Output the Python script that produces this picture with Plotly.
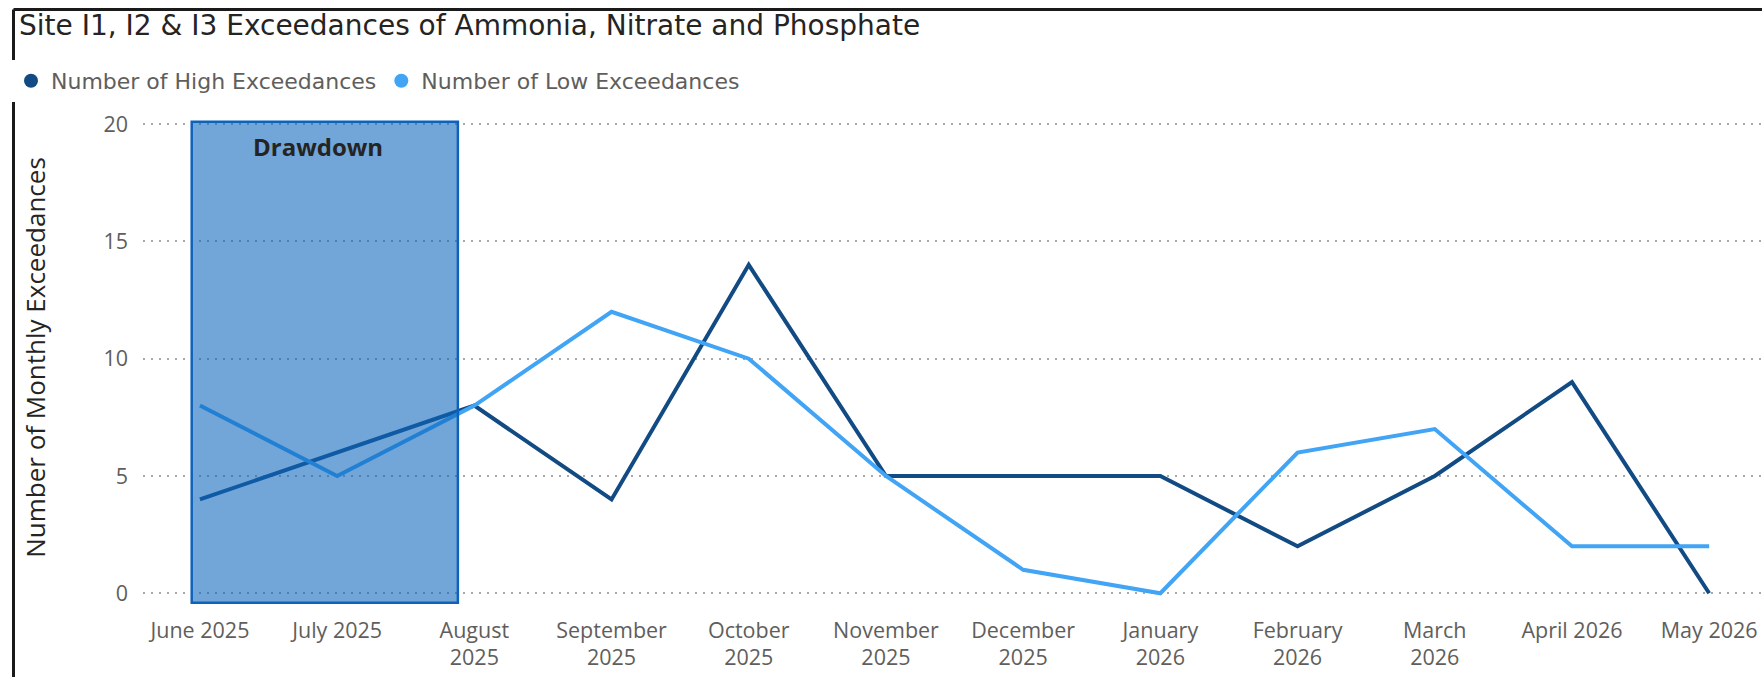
import plotly.graph_objects as go

# ---- data ----
months = ["June 2025", "July 2025", "August 2025", "September 2025", "October 2025",
          "November 2025", "December 2025", "January 2026", "February 2026",
          "March 2026", "April 2026", "May 2026"]
tick_labels = ["June 2025", "July 2025", "August<br>2025", "September<br>2025",
               "October<br>2025", "November<br>2025", "December<br>2025",
               "January<br>2026", "February<br>2026", "March<br>2026",
               "April 2026", "May 2026"]
high_exceedances = [4, 6, 8, 4, 14, 5, 5, 5, 2, 5, 9, 0]
low_exceedances = [8, 5, 8, 12, 10, 5, 1, 0, 6, 7, 2, 2]
y_ticks = [0, 5, 10, 15, 20]

HIGH = "#124B84"
LOW = "#41A4F5"
TXT = "#605E5C"
TICKFONT = "Segoe UI, Open Sans, sans-serif"
TITLEFONT = "DIN, DejaVu Sans, sans-serif"

W, H = 1762, 677
ML, MR, MT, MB = 143, 0, 110, 72
PW, PH = W - ML - MR, H - MT - MB

def px_x(p):
    return (p - ML) / PW

def px_y(p):
    return (H - MB - p) / PH

fig = go.Figure()
fig.add_trace(go.Scatter(x=months, y=high_exceedances, mode="lines",
                         line=dict(color=HIGH, width=4), showlegend=False,
                         name="Number of High Exceedances"))
fig.add_trace(go.Scatter(x=months, y=low_exceedances, mode="lines",
                         line=dict(color=LOW, width=4), showlegend=False,
                         name="Number of Low Exceedances"))
# legend entries (circle symbols)
fig.add_trace(go.Scatter(x=[None], y=[None], mode="markers",
                         marker=dict(color=HIGH, size=14, symbol="circle"),
                         name="Number of High Exceedances"))
fig.add_trace(go.Scatter(x=[None], y=[None], mode="markers",
                         marker=dict(color=LOW, size=14, symbol="circle"),
                         name="Number of Low Exceedances"))

# Drawdown box
fig.add_shape(type="rect", xref="x", yref="y", x0=-0.06, x1=1.88, y0=-0.4, y1=20.1,
              fillcolor="rgba(12,102,188,0.58)", line=dict(color="#0F62BA", width=2.5),
              layer="above")
fig.add_annotation(x=0.86, y=19.06, xref="x", yref="y", text="<b>Drawdown</b>",
                   showarrow=False, font=dict(family=TICKFONT, size=24, color="#252423"))

# frame lines (top and left)
fx = px_x(13.5)
fy = px_y(9.5)
fig.add_shape(type="line", xref="paper", yref="paper", x0=fx, x1=1.2, y0=fy, y1=fy,
              line=dict(color="#1a1a1a", width=3), layer="above")
fig.add_shape(type="line", xref="paper", yref="paper", x0=fx, x1=fx, y0=fy, y1=-0.3,
              line=dict(color="#1a1a1a", width=3), layer="above")

fig.update_layout(
    width=W, height=H,
    margin=dict(l=ML, r=MR, t=MT, b=MB, autoexpand=False),
    paper_bgcolor="white", plot_bgcolor="white",
    title=dict(text="Site I1, I2 & I3 Exceedances of Ammonia, Nitrate and Phosphate",
               xref="container", yref="container", x=19 / W, y=1 - 25 / H,
               xanchor="left", yanchor="middle",
               font=dict(family=TITLEFONT, size=28, color="#252423")),
    legend=dict(orientation="h", xref="container", yref="container",
                x=11 / W, y=1 - 81 / H, xanchor="left", yanchor="middle",
                font=dict(family=TITLEFONT, size=22, color=TXT),
                itemclick=False, traceorder="normal"),
    showlegend=True,
)
fig.update_xaxes(type="category", categoryorder="array", categoryarray=months,
                 range=[-0.415, 11.385], tickvals=months, ticktext=tick_labels,
                 showgrid=False, zeroline=False, showline=False, ticks="",
                 ticklabelstandoff=10,
                 tickfont=dict(family=TICKFONT, size=21.5, color=TXT), automargin=False)
fig.update_yaxes(range=[-0.5, 20.6], tickvals=y_ticks, showgrid=True,
                 gridcolor="#A8A8A8", gridwidth=2, griddash="2px,6px",
                 zeroline=False, showline=False, ticks="", ticklabelstandoff=14,
                 tickfont=dict(family=TICKFONT, size=21.5, color=TXT), automargin=False,
                 title=dict(text="Number of Monthly Exceedances", standoff=50,
                            font=dict(family=TICKFONT, size=26, color="#252423")))

fig.write_html("out.html", post_script="document.body.style.margin='0';",
               config={"displayModeBar": False})
